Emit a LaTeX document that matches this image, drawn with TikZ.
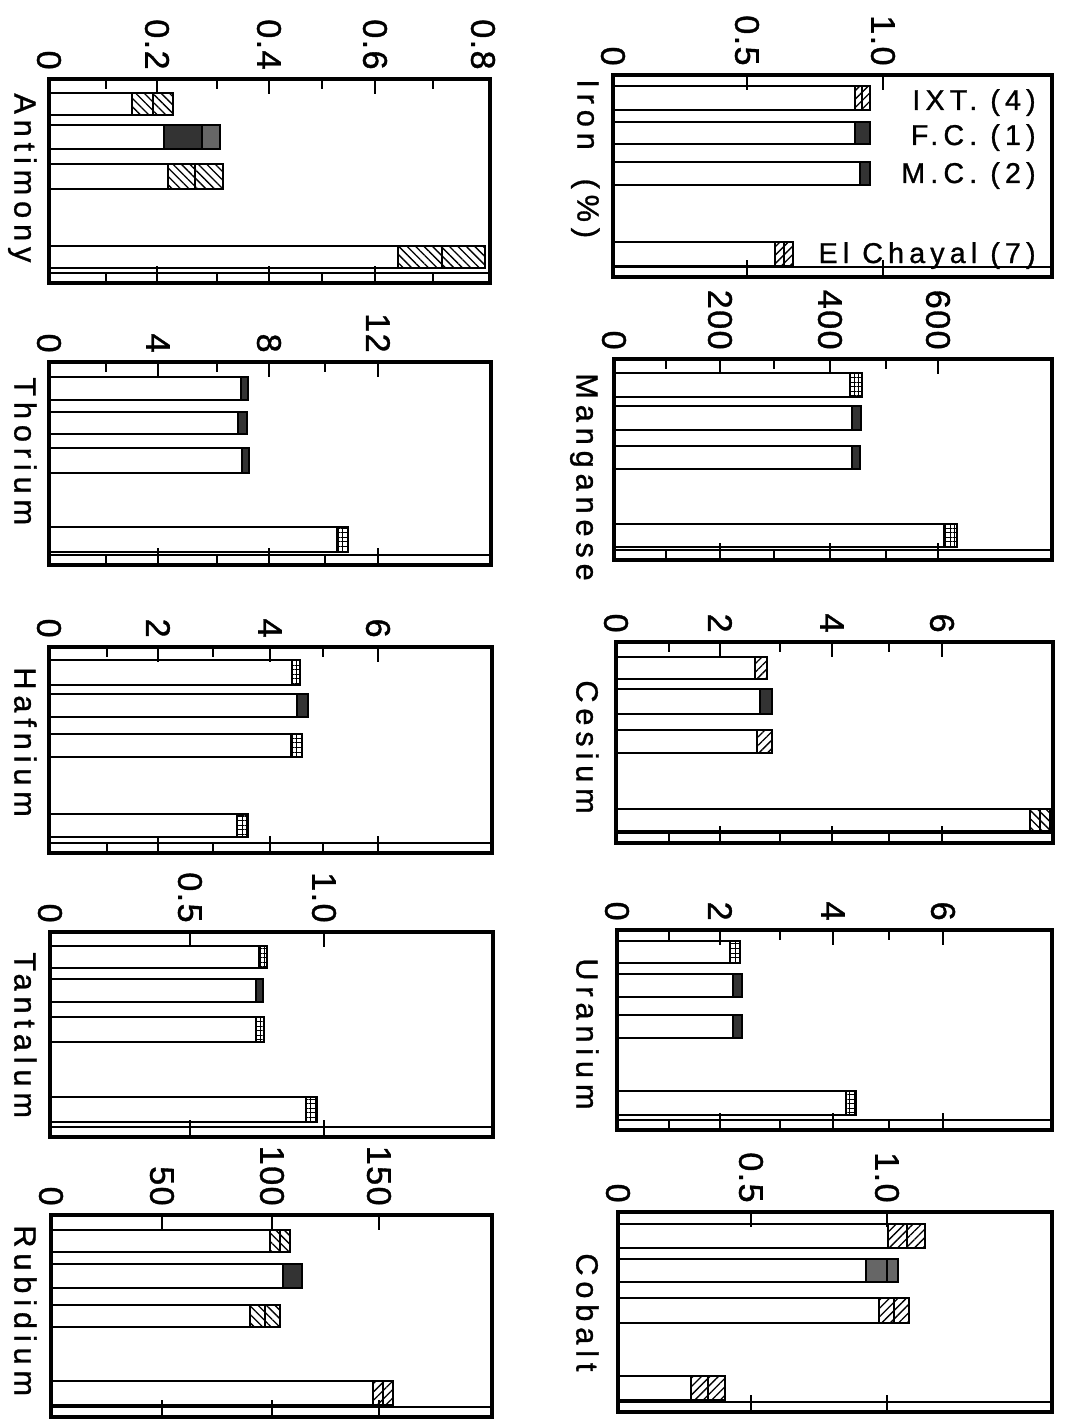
\documentclass[tikz,border=0pt]{standalone}
\usepackage{fontspec}
\newfontfamily\tickfont[LetterSpace=4, FakeBold=1]{Liberation Sans}
\newfontfamily\namefont[LetterSpace=19, FakeBold=1]{Liberation Sans}
\newfontfamily\keyfont[LetterSpace=18, FakeBold=1]{Liberation Sans}
\usetikzlibrary{patterns.meta}
\tikzset
{
    panelframe/.style = {line width=2pt},
    axisline/.style   = {line width=1.1pt},
    tickmark/.style   = {line width=1.6pt},
    barline/.style    = {draw=black, line width=1.3pt},
    hatchne/.style    = {pattern={Lines[angle=45, distance=3.4pt, line width=0.75pt]}},
    hatchnw/.style    = {pattern={Lines[angle=-45, distance=3.4pt, line width=0.75pt]}},
    gridseg/.style    = {pattern={Hatch[angle=0, distance=2.6pt, line width=0.6pt]}},
    darkseg/.style    = {fill=black!80},
    greyseg/.style    = {fill=black!60},
    ticklabel/.style  = {rotate=-90, anchor=east, inner sep=0pt, font=\tickfont\fontsize{19.5}{22}\selectfont},
    elemlabel/.style  = {rotate=-90, anchor=west, inner sep=0pt, text height=0.72em, text depth=0.2em, font=\namefont\fontsize{17.5}{20}\selectfont},
    keylabel/.style   = {anchor=base east, inner sep=0pt, font=\keyfont\fontsize{16.3}{18}\selectfont}
}

\begin{document}
\begin{tikzpicture}[x=0.02cm, y=-0.02cm]
   \newcommand\BarOne[6]{%
     \draw[barline] (#1,#2) rectangle (#4,#3);
     \draw[barline,#5] (#4,#2) rectangle (#6,#3);}
   \newcommand\BarTwo[8]{%
     \draw[barline] (#1,#2) rectangle (#4,#3);
     \draw[barline,#5] (#4,#2) rectangle (#6,#3);
     \draw[barline,#7] (#6,#2) rectangle (#8,#3);}
   \newcommand\PanelBox[4]{%
     \draw[panelframe] (#1,#2) rectangle (#3,#4);
     \draw[axisline] (#1,#4) ++(0,-10) -- (#3,#4-10);}
   \newcommand\TickMajor[3]{\draw[tickmark] (#1,#2) -- ++(0,15) (#1,#3) -- ++(0,-17);}
   \newcommand\TickMinor[3]{\draw[tickmark] (#1,#2) -- ++(0,10) (#1,#3) -- ++(0,-10);}

   \useasboundingbox (0,0) rectangle (1082,1419);
   \fill[white] (0,0) rectangle (1082,1419);

   % Antimony
   \BarTwo{49}{93}{115}{132}{hatchnw}{153}{hatchnw}{173}
   \BarTwo{49}{125}{149}{164}{darkseg}{202}{greyseg}{220}
   \BarTwo{49}{164}{189}{168}{hatchnw}{195}{hatchnw}{223}
   \BarTwo{49}{246}{268}{398}{hatchnw}{442}{hatchnw}{485}
   \PanelBox{49}{79}{490}{283}
   \TickMinor{106}{79}{283} \TickMajor{157}{79}{283} \TickMinor{217}{79}{283} \TickMajor{269}{79}{283}
   \TickMinor{322}{79}{283} \TickMajor{375}{79}{283} \TickMinor{433}{79}{283}
   \node (sb0) [ticklabel] at (49, 70)  {0};
   \node (sb2) [ticklabel] at (157, 70) {0.2};
   \node (sb4) [ticklabel] at (269, 70) {0.4};
   \node (sb6) [ticklabel] at (375, 70) {0.6};
   \node (sb8) [ticklabel] at (483, 70) {0.8};
   \node (sb)  [elemlabel] at (19, 93)  {Antimony};

   % Iron
   \BarTwo{613}{86}{110}{855}{hatchne}{862}{hatchne}{870}
   \BarOne{613}{122}{144}{855}{darkseg}{870}
   \BarOne{613}{162}{185}{860}{darkseg}{870}
   \BarTwo{613}{242}{266}{775}{hatchne}{784}{hatchne}{793}
   \PanelBox{613}{75}{1052}{277}
   \TickMajor{747}{75}{277} \TickMajor{883}{75}{277}
   \node (fe0)  [ticklabel] at (613, 66) {0};
   \node (fe5)  [ticklabel] at (747, 66) {0.5};
   \node (fe10) [ticklabel] at (883, 66) {1.0};
   \node (fe)   [elemlabel] at (582, 79) {Iron~~(\%)};
   \node (ixt)  [keylabel]  at (1036, 110) {IXT. (4)};
   \node (fc)   [keylabel]  at (1036, 145) {F.C. (1)};
   \node (mc)   [keylabel]  at (1036, 183) {M.C. (2)};
   \node (ech)  [keylabel]  at (1036, 263) {El Chayal (7)};

   % Manganese
   \BarOne{614}{373}{397}{850}{gridseg}{862}
   \BarOne{614}{406}{430}{852}{darkseg}{861}
   \BarOne{614}{446}{469}{852}{darkseg}{860}
   \BarOne{614}{524}{547}{944}{gridseg}{957}
   \PanelBox{614}{359}{1052}{560}
   \TickMinor{666}{359}{560} \TickMajor{720}{359}{560} \TickMinor{774}{359}{560}
   \TickMajor{830}{359}{560} \TickMinor{886}{359}{560} \TickMajor{938}{359}{560}
   \node (mn0)   [ticklabel] at (614, 350) {0};
   \node (mn200) [ticklabel] at (720, 350) {200};
   \node (mn400) [ticklabel] at (830, 350) {400};
   \node (mn600) [ticklabel] at (938, 350) {600};
   \node (mn)    [elemlabel] at (581, 373) {Manganese};

   % Thorium
   \BarOne{49}{377}{400}{241}{darkseg}{248}
   \BarOne{49}{412}{434}{238}{darkseg}{247}
   \BarOne{49}{448}{473}{242}{darkseg}{249}
   \BarOne{49}{527}{552}{337}{gridseg}{348}
   \PanelBox{49}{362}{491}{565}
   \TickMinor{106}{362}{565} \TickMajor{158}{362}{565} \TickMinor{217}{362}{565}
   \TickMajor{269}{362}{565} \TickMinor{325}{362}{565} \TickMajor{378}{362}{565}
   \node (th0)  [ticklabel] at (49, 353)  {0};
   \node (th4)  [ticklabel] at (158, 353) {4};
   \node (th8)  [ticklabel] at (269, 353) {8};
   \node (th12) [ticklabel] at (378, 353) {12};
   \node (th)   [elemlabel] at (19, 377)  {Thorium};

   % Cesium
   \BarOne{616}{657}{679}{755}{hatchne}{767}
   \BarOne{616}{689}{714}{760}{darkseg}{772}
   \BarOne{616}{730}{753}{757}{hatchne}{772}
   \BarTwo{616}{809}{831}{1030}{hatchnw}{1040}{hatchnw}{1050}
   \PanelBox{616}{642}{1053}{843}
   \TickMinor{669}{642}{843} \TickMajor{720}{642}{843} \TickMinor{780}{642}{843}
   \TickMajor{832}{642}{843} \TickMinor{889}{642}{843} \TickMajor{942}{642}{843}
   \node (cs0) [ticklabel] at (616, 633) {0};
   \node (cs2) [ticklabel] at (720, 633) {2};
   \node (cs4) [ticklabel] at (832, 633) {4};
   \node (cs6) [ticklabel] at (942, 633) {6};
   \node (cs)  [elemlabel] at (581, 680) {Cesium};

   % Hafnium
   \BarOne{49}{660}{685}{292}{gridseg}{300}
   \BarOne{49}{694}{717}{297}{darkseg}{308}
   \BarOne{49}{734}{757}{291}{gridseg}{302}
   \BarOne{49}{814}{837}{237}{gridseg}{248}
   \PanelBox{49}{647}{492}{853}
   \TickMinor{107}{647}{853} \TickMajor{158}{647}{853} \TickMinor{213}{647}{853}
   \TickMajor{270}{647}{853} \TickMinor{323}{647}{853} \TickMajor{378}{647}{853}
   \node (hf0) [ticklabel] at (49, 638)  {0};
   \node (hf2) [ticklabel] at (158, 638) {2};
   \node (hf4) [ticklabel] at (270, 638) {4};
   \node (hf6) [ticklabel] at (378, 638) {6};
   \node (hf)  [elemlabel] at (19, 667)  {Hafnium};

   % Uranium
   \BarOne{617}{941}{963}{730}{gridseg}{740}
   \BarOne{617}{974}{997}{733}{darkseg}{742}
   \BarOne{617}{1015}{1038}{733}{darkseg}{742}
   \BarOne{617}{1091}{1115}{846}{gridseg}{856}
   \PanelBox{617}{930}{1052}{1130}
   \TickMinor{669}{930}{1130} \TickMajor{720}{930}{1130} \TickMinor{780}{930}{1130}
   \TickMajor{833}{930}{1130} \TickMinor{889}{930}{1130} \TickMajor{943}{930}{1130}
   \node (u0) [ticklabel] at (617, 921) {0};
   \node (u2) [ticklabel] at (720, 921) {2};
   \node (u4) [ticklabel] at (833, 921) {4};
   \node (u6) [ticklabel] at (943, 921) {6};
   \node (u)  [elemlabel] at (581, 958) {Uranium};

   % Tantalum
   \BarOne{50}{946}{968}{259}{gridseg}{267}
   \BarOne{50}{979}{1002}{256}{darkseg}{263}
   \BarOne{50}{1017}{1042}{256}{gridseg}{264}
   \BarOne{50}{1097}{1122}{306}{gridseg}{317}
   \PanelBox{50}{932}{493}{1137}
   \TickMajor{190}{932}{1137} \TickMajor{324}{932}{1137}
   \node (ta0)  [ticklabel] at (50, 923)  {0};
   \node (ta5)  [ticklabel] at (190, 923) {0.5};
   \node (ta10) [ticklabel] at (324, 923) {1.0};
   \node (ta)   [elemlabel] at (19, 952)  {Tantalum};

   % Cobalt
   \BarTwo{618}{1224}{1248}{888}{hatchne}{907}{hatchne}{925}
   \BarTwo{618}{1259}{1282}{866}{greyseg}{887}{greyseg}{898}
   \BarTwo{618}{1298}{1323}{879}{hatchne}{894}{hatchne}{909}
   \BarTwo{618}{1376}{1400}{691}{hatchne}{708}{hatchne}{725}
   \PanelBox{618}{1212}{1052}{1412}
   \TickMajor{751}{1212}{1412} \TickMajor{887}{1212}{1412}
   \node (co0)  [ticklabel] at (618, 1203) {0};
   \node (co5)  [ticklabel] at (751, 1203) {0.5};
   \node (co10) [ticklabel] at (887, 1203) {1.0};
   \node (co)   [elemlabel] at (581, 1253) {Cobalt};

   % Rubidium
   \BarTwo{51}{1230}{1252}{270}{hatchnw}{280}{hatchnw}{290}
   \BarOne{51}{1264}{1288}{283}{darkseg}{302}
   \BarTwo{51}{1305}{1327}{250}{hatchnw}{265}{hatchnw}{280}
   \BarTwo{51}{1381}{1405}{373}{hatchne}{383}{hatchne}{393}
   \PanelBox{51}{1215}{492}{1417}
   \TickMajor{162}{1215}{1417} \TickMajor{272}{1215}{1417} \TickMajor{379}{1215}{1417}
   \node (rb0)   [ticklabel] at (51, 1206)  {0};
   \node (rb50)  [ticklabel] at (162, 1206) {50};
   \node (rb100) [ticklabel] at (272, 1206) {100};
   \node (rb150) [ticklabel] at (379, 1206) {150};
   \node (rb)    [elemlabel] at (19, 1225)  {Rubidium};
\end{tikzpicture}
\end{document}
